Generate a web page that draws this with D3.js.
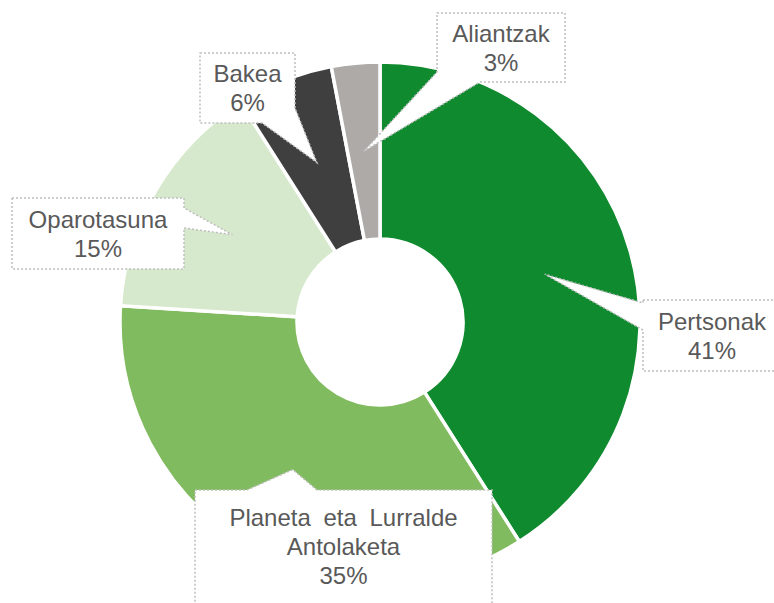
<!DOCTYPE html>
<html>
<head>
<meta charset="utf-8">
<script src="https://cdn.jsdelivr.net/npm/d3@7"></script>
<style>
  html, body { margin: 0; padding: 0; background: #ffffff; }
  svg { display: block; }
</style>
</head>
<body>
<div id="chart"></div>
<script>
// ---- data ----
const categories = ["Pertsonak", "Planeta eta Lurralde Antolaketa", "Oparotasuna", "Bakea", "Aliantzak"];
const labelLines = [["Pertsonak"], ["Planeta eta Lurralde", "Antolaketa"], ["Oparotasuna"], ["Bakea"], ["Aliantzak"]];
const values = [41, 35, 15, 6, 3];
const colors = ["#0f8a2f", "#80bb5f", "#d6e9cc", "#3f3f3f", "#adaaa8"];

// ---- layout ----
const W = 774, H = 603;
const cx = 380, cy = 322, outerR = 260, innerR = 83;

// callout boxes (x, y, w, h) and wedge base points along box perimeter
const boxes = [
  {x: 643, y: 300, w: 140, h: 71, path: (b, t) => [[b.x, b.y], [b.x + b.w, b.y], [b.x + b.w, b.y + b.h], [b.x, b.y + b.h], [b.x, 330], t, [b.x, 303]]},
  {x: 195, y: 490, w: 297, h: 125, path: (b, t) => [[b.x, b.y], [247, b.y], t, [317, b.y], [b.x + b.w, b.y], [b.x + b.w, b.y + b.h], [b.x, b.y + b.h]]},
  {x: 12, y: 198, w: 172, h: 71, path: (b, t) => [[b.x, b.y], [b.x + b.w, b.y], [b.x + b.w, 208], t, [b.x + b.w, 228], [b.x + b.w, b.y + b.h], [b.x, b.y + b.h]]},
  {x: 200, y: 53, w: 95, h: 70, path: (b, t) => [[b.x, b.y], [b.x + b.w, b.y], [b.x + b.w, 108], t, [262, b.y + b.h], [b.x, b.y + b.h]]},
  {x: 437, y: 13, w: 128, h: 69, path: (b, t) => [[b.x, b.y], [b.x + b.w, b.y], [b.x + b.w, b.y + b.h], [480, b.y + b.h], t, [b.x, 72]]}
];

const svg = d3.select("#chart").append("svg")
  .attr("width", W).attr("height", H);

const pie = d3.pie().sort(null).value(d => d);
const arcs = pie(values);
const arc = d3.arc().innerRadius(innerR).outerRadius(outerR);

const g = svg.append("g").attr("transform", `translate(${cx},${cy})`);

g.selectAll("path.slice")
  .data(arcs)
  .join("path")
  .attr("class", "slice")
  .attr("d", arc)
  .attr("fill", (d, i) => colors[i])
  .attr("stroke", "#ffffff")
  .attr("stroke-width", 3.5)
  .attr("stroke-linejoin", "miter");

// callouts
const fs = 24, lh = 29;
const callouts = svg.append("g");
arcs.forEach((d, i) => {
  const c = arc.centroid(d);
  const tip = [cx + c[0], cy + c[1]];
  const b = boxes[i];
  const pts = b.path(b, tip);
  callouts.append("path")
    .attr("d", "M" + pts.map(p => p.join(",")).join("L") + "Z")
    .attr("fill", "#ffffff")
    .attr("stroke", "#bfbfbf")
    .attr("stroke-width", 1.5)
    .attr("stroke-dasharray", "2,2");

  const lines = labelLines[i].concat([values[i] + "%"]);
  const n = lines.length;
  const centerY = i === 1 ? 555 - 8.5 : b.y + b.h / 2;
  const t = callouts.append("text")
    .attr("font-family", "'Liberation Sans', Arial, sans-serif")
    .attr("font-size", fs)
    .attr("fill", "#595959")
    .attr("text-anchor", "middle");
  lines.forEach((ln, k) => {
    t.append("tspan")
      .attr("x", b.x + b.w / 2 + (i === 0 ? -1 : 0))
      .attr("y", centerY + (k - (n - 1) / 2) * lh + 8.5)
      .attr("word-spacing", i === 1 ? 6 : 0)
      .text(ln);
  });
});
</script>
</body>
</html>
